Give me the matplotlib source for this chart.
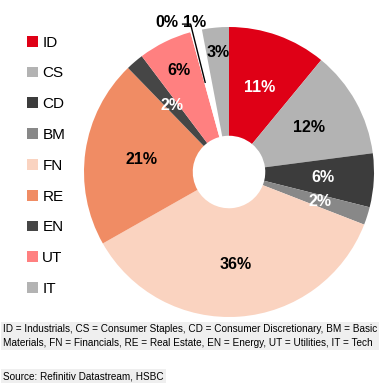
import matplotlib

matplotlib.use("Agg")
import matplotlib.pyplot as plt
import numpy as np
from matplotlib.patches import Patch

plt.rcParams["font.family"] = ["Liberation Sans", "DejaVu Sans"]

# sector shares, clockwise from 12 o'clock
codes = ["ID", "CS", "CD", "BM", "FN", "RE", "EN", "UT", "", "", "IT"]
shares = [11, 12, 6, 2, 36, 21, 2, 6, 0.3, 1, 3]
pct_labels = ["11%", "12%", "6%", "2%", "36%", "21%", "2%", "6%", "0%", "1%", "3%"]
colors = ["#DF0016", "#B3B3B3", "#3C3C3C", "#888888", "#FAD3C0", "#F08C64",
          "#464646", "#FF8080", "#FFFFFF", "#FFFFFF", "#B3B3B3"]
text_colors = ["white", "black", "white", "white", "black", "black",
               "white", "black", "black", "black", "black"]
legend_codes = ["ID", "CS", "CD", "BM", "FN", "RE", "EN", "UT", "IT"]

footnote = ("ID = Industrials, CS = Consumer Staples, CD = Consumer Discretionary, BM = Basic\n"
            "Materials, FN = Financials, RE = Real Estate, EN = Energy, UT = Utilities, IT = Tech")
source = "Source: Refinitiv Datastream, HSBC"

W = H = 387
fig = plt.figure(figsize=(W / 100, H / 100), dpi=100)
cx, cy, r = 229, 172, 145
ax = fig.add_axes([(cx - r) / W, (H - cy - r) / H, 2 * r / W, 2 * r / H])

wedges, _ = ax.pie(shares, colors=colors, startangle=90, counterclock=False,
                   radius=1.0, wedgeprops=dict(width=0.75, linewidth=0))
ax.set_xlim(-1, 1)
ax.set_ylim(-1, 1)
ax.set_aspect("equal")
ax.axis("off")

# label radius per slice (small ones pushed outward)
label_r = [0.62, 0.63, 0.65, 0.66, 0.64, 0.61, 0.6, 0.78, None, None, 0.83]
for w, lab, tc, rr in zip(wedges, pct_labels, text_colors, label_r):
    if rr is None:
        continue
    ang = np.deg2rad((w.theta1 + w.theta2) / 2)
    ax.text(rr * np.cos(ang), rr * np.sin(ang), lab, ha="center", va="center",
            fontsize=11.5, fontweight="bold", color=tc)

# outside labels for the tiny slices
ax.text(-0.43, 1.03, pct_labels[8], ha="center", va="center",
        fontsize=11.5, fontweight="bold", color="black")
ax.text(-0.24, 1.03, pct_labels[9], ha="center", va="center",
        fontsize=11.5, fontweight="bold", color="black")
ang = np.deg2rad((wedges[8].theta1 + wedges[8].theta2) / 2)
ax.plot([-0.32, -0.265, 0.64 * np.cos(ang)], [1.02, 1.02, 0.64 * np.sin(ang)],
        color="black", lw=1.0, clip_on=False)

handles = [Patch(facecolor=colors[codes.index(c)], edgecolor="none") for c in legend_codes]
fig.legend(handles, legend_codes, loc="upper left", bbox_to_anchor=(0.05, 0.928),
           frameon=False, fontsize=11, handlelength=0.7, handleheight=0.7,
           handletextpad=0.3, labelspacing=1.1, borderpad=0)

fig.text(0.008, 0.132, footnote, fontsize=7.2, va="center", ha="left", linespacing=1.55,
         bbox=dict(facecolor="#EFEFEF", edgecolor="none", pad=1.5))
fig.text(0.008, 0.028, source, fontsize=7.2, va="center", ha="left",
         bbox=dict(facecolor="#EFEFEF", edgecolor="none", pad=1.5))

fig.savefig("out.png", dpi=100)
